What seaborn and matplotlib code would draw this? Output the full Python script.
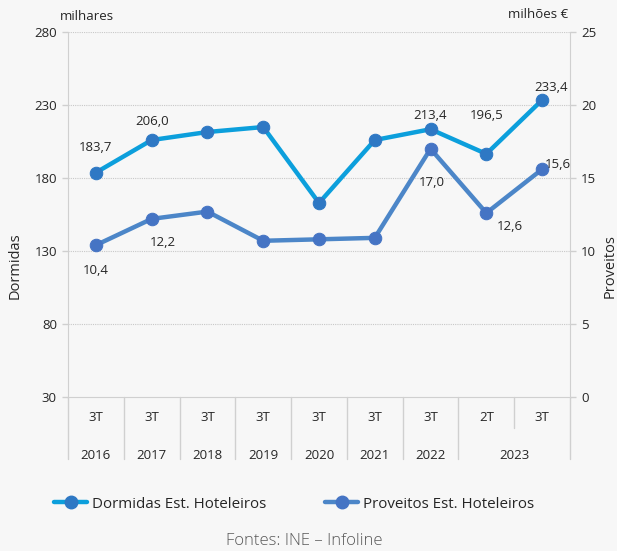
import matplotlib
matplotlib.use("Agg")
import matplotlib.pyplot as plt
import seaborn as sns
import pandas as pd
import numpy as np
from matplotlib.lines import Line2D

quarters = ["3T", "3T", "3T", "3T", "3T", "3T", "3T", "2T", "3T"]
years = ["2016", "2017", "2018", "2019", "2020", "2021", "2022", "2023", "2023"]
dormidas = [183.7, 206.0, 211.5, 214.9, 162.9, 206.0, 213.4, 196.5, 233.4]
proveitos = [10.4, 12.2, 12.7, 10.7, 10.8, 10.9, 17.0, 12.6, 15.6]
left_ticks = [30, 80, 130, 180, 230, 280]
right_ticks = [0, 5, 10, 15, 20, 25]
dorm_labels = {0: "183,7", 1: "206,0", 6: "213,4", 7: "196,5", 8: "233,4"}
prov_labels = {0: "10,4", 1: "12,2", 6: "17,0", 7: "12,6", 8: "15,6"}

sns.set_style("white")
plt.rcParams["font.family"] = ["Open Sans", "DejaVu Sans"]

BG = "#f7f7f7"
TXT = "#262626"
GRID = "#c8c8c8"
C_D_LINE = "#0c9fdc"
C_D_MARK = "#2e78c4"
C_P_LINE = "#4c86c8"
C_P_MARK = "#4574c4"

df = pd.DataFrame({"idx": np.arange(len(dormidas)), "dormidas": dormidas, "proveitos": proveitos})

fig = plt.figure(figsize=(6.17, 5.51), dpi=100, facecolor=BG)
ax = fig.add_axes([68/617, 1-397/551, 502/617, 365/551], facecolor=BG)
ax2 = ax.twinx()

sns.lineplot(data=df, x="idx", y="dormidas", ax=ax, color=C_D_LINE, linewidth=3.2,
             marker="o", markersize=9, markerfacecolor=C_D_MARK, markeredgecolor=C_D_MARK, zorder=3)
sns.lineplot(data=df, x="idx", y="proveitos", ax=ax2, color=C_P_LINE, linewidth=3.2,
             marker="o", markersize=9, markerfacecolor=C_P_MARK, markeredgecolor=C_P_MARK, zorder=3)

ax.set_xlim(-0.5, len(dormidas) - 0.5)
ax.set_ylim(30, 280)
ax2.set_ylim(0, 25)
ax.set_yticks(left_ticks)
ax2.set_yticks(right_ticks)
ax.set_xticks([])
ax.set_xlabel("")
ax2.set_xlabel("")
ax.set_ylabel("Dormidas", fontsize=10.5, color=TXT, rotation=90, va="center", ha="center")
ax2.set_ylabel("Proveitos", fontsize=10.5, color=TXT, rotation=90, va="center", ha="center")
ax.yaxis.set_label_coords(-0.1056, 0.36)
ax2.yaxis.set_label_coords(1.080, 0.36)

for a in (ax, ax2):
    a.tick_params(axis="y", labelsize=9.5, colors=TXT, length=4, width=1, direction="out", pad=4)
    for s in a.spines.values():
        s.set_visible(False)
ax.tick_params(axis="y", color="#cfcfcf")
ax2.tick_params(axis="y", color="#cfcfcf")
ax2.spines["right"].set_visible(True)
ax2.spines["right"].set_color("#d0d0d0")
ax.spines["left"].set_visible(True)
ax.spines["left"].set_color("#d0d0d0")
ax.spines["bottom"].set_visible(True)
ax.spines["bottom"].set_color("#d0d0d0")

for t in left_ticks[1:]:
    ax.axhline(t, color=GRID, linestyle=(0, (1, 1)), linewidth=0.8, zorder=0)

# annotations
d_off = {0: (0, 18), 1: (0, 13), 6: (0, 10), 7: (0, 28), 8: (6.5, 9)}
p_off = {0: (0, -18), 1: (8, -17), 6: (1, -24.5), 7: (17, -9.5), 8: (11.5, 3.6)}
for i, s in dorm_labels.items():
    ax.annotate(s, (i, dormidas[i]), xytext=d_off[i], textcoords="offset points",
                ha="center", va="center", fontsize=9.5, color=TXT, zorder=5)
for i, s in prov_labels.items():
    ax2.annotate(s, (i, proveitos[i]), xytext=p_off[i], textcoords="offset points",
                 ha="center", va="center", fontsize=9.5, color=TXT, zorder=5)

# category axis
trans = ax.get_xaxis_transform()
for i, q in enumerate(quarters):
    ax.text(i, -0.0575, q, transform=trans, ha="center", va="center", fontsize=9.5, color=TXT)
groups = []
for i, y in enumerate(years):
    if groups and groups[-1][0] == y:
        groups[-1][2] = i
    else:
        groups.append([y, i, i])
for y, a, b in groups:
    ax.text((a + b) / 2, -0.159, y, transform=trans, ha="center", va="center", fontsize=9.5, color=TXT)
bounds = [-0.5] + [g[2] + 0.5 for g in groups]
for bx in bounds:
    ax.plot([bx, bx], [0, -0.17], transform=trans, color="#d0d0d0", linewidth=1, clip_on=False)
for y, a, b in groups:
    for k in range(a, b):
        ax.plot([k + 0.5, k + 0.5], [0, -0.085], transform=trans, color="#d0d0d0", linewidth=1, clip_on=False)

fig.text(60/617, 1-17/551, "milhares", fontsize=9.5, color=TXT, ha="left", va="center")
fig.text(568/617, 1-15/551, "milhões €", fontsize=9.5, color=TXT, ha="right", va="center")

handles = [
    Line2D([0], [0], color=C_D_LINE, linewidth=3.2, marker="o", markersize=9,
           markerfacecolor=C_D_MARK, markeredgecolor=C_D_MARK),
    Line2D([0], [0], color=C_P_LINE, linewidth=3.2, marker="o", markersize=9,
           markerfacecolor=C_P_MARK, markeredgecolor=C_P_MARK),
]
leg = fig.legend(handles, ["Dormidas Est. Hoteleiros", "Proveitos Est. Hoteleiros"],
                 loc="center", bbox_to_anchor=(294/617, 1-504/551), ncol=2, frameon=False,
                 fontsize=10.9, handlelength=2.2, handletextpad=0.3, columnspacing=3.9,
                 labelcolor=TXT)

fig.text(304/617, 1-541/551, "Fontes: INE – Infoline", fontsize=12, color="#595959",
         ha="center", va="center", fontweight="light")

fig.savefig("out.png", dpi=100, facecolor=BG)
